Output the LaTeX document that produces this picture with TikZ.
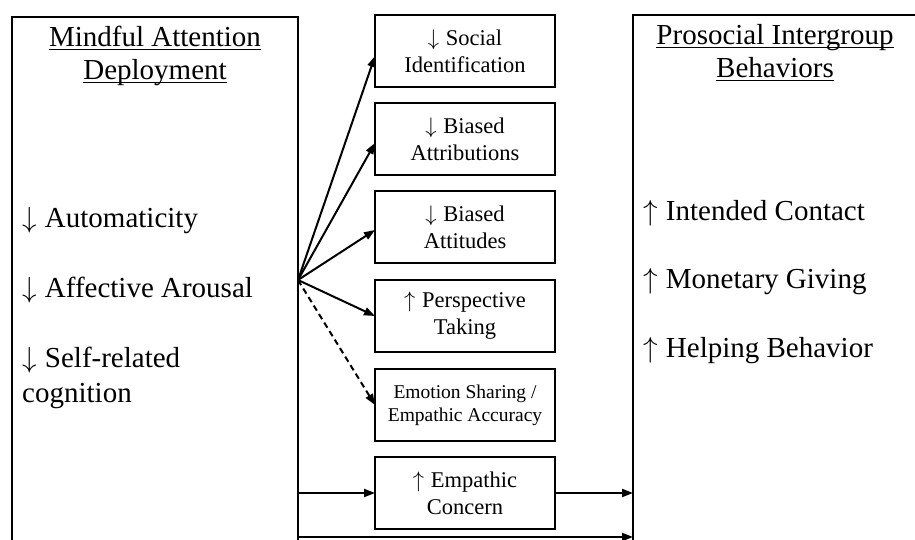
\RequirePackage{fix-cm}
\documentclass[tikz,border=0pt]{standalone}
\usepackage{fontspec}
\setmainfont{Liberation Serif}
\usepackage{tikz}
\usetikzlibrary{arrows.meta}
\newcommand{\headingsize}{\fontsize{29}{33}\selectfont}
\newcommand{\itemsize}{\fontsize{29}{35}\selectfont}
\newcommand{\uhead}[1]{\setbox0\hbox{#1}\leavevmode\rlap{\rule[-3.5pt]{\wd0}{1.4pt}}\box0}
\newcommand{\decr}{$\downarrow$\kern1pt}
\newcommand{\incr}{$\uparrow$\kern1pt}
\tikzstyle{panel}=[draw, line width=1.5pt, inner sep=0, outer sep=0, anchor=north west, minimum height=600pt]
\tikzstyle{factor}=[draw, line width=1.5pt, inner sep=0, outer sep=0, minimum width=180pt, minimum height=72pt,
                    align=center, font=\fontsize{22.5}{27}\selectfont]
\tikzstyle{heading}=[inner sep=0, anchor=base, align=center, font=\headingsize]
\tikzstyle{item}=[inner sep=0, anchor=base west, align=left, font=\itemsize]
\tikzstyle{arr}=[line width=2pt, -{Triangle[length=11pt, width=8pt]}]
\tikzstyle{mindmap}=[x=1pt, y=-1pt,
                     % Fix the page to the size of the reference.
                     execute at begin picture={\useasboundingbox (0, 0) rectangle (915, 540);}]
\begin{document}
\begin{tikzpicture}[mindmap]
        \node[panel, minimum width=286pt] (mind) at (12, 17) {};
        \node[panel, minimum width=400pt] (prosoc) at (633, 15) {};
        \node[heading] (mindtitle) at (155, 80) {\uhead{Mindful Attention}\\\uhead{Deployment}};
        \node[heading] (prosoctitle) at (775, 78) {\uhead{Prosocial Intergroup}\\\uhead{Behaviors}};
        \node[item] (auto) at (22, 227) {\decr{} Automaticity};
        \node[item] (arousal) at (22, 297) {\decr{} Affective Arousal};
        \node[item] (self) at (22, 402) {\decr{} Self-related\\cognition};
        \node[item] (contact) at (643, 220) {\incr{} Intended Contact};
        \node[item] (giving) at (643, 288) {\incr{} Monetary Giving};
        \node[item] (helping) at (643, 357) {\incr{} Helping Behavior};
        \node[factor] (social) at (465, 51) {\decr{} Social\\Identification};
        \node[factor] (attrib) at (465, 139) {\decr{} Biased\\Attributions};
        \node[factor] (attit) at (465, 227) {\decr{} Biased\\Attitudes};
        \node[factor] (persp) at (465, 316) {\incr{} Perspective\\Taking};
        \node[factor, font=\fontsize{19.5}{23}\selectfont] (sharing) at (465, 405) {Emotion Sharing /\\Empathic Accuracy};
        \node[factor] (concern) at (465, 493) {\incr{} Empathic\\Concern};
        \coordinate (fan) at (298, 280);
        \coordinate (low) at (298, 537);
        \draw[arr] (fan) -- ([yshift=-5pt]social.west);
        \draw[arr] (fan) -- ([yshift=-4pt]attrib.west);
        \draw[arr] (fan) -- ([yshift=-3pt]attit.west);
        \draw[arr] (fan) -- (persp.west);
        \draw[arr, dash pattern=on 6pt off 4pt] (fan) -- (sharing.west);
        \draw[arr] (concern.west -| mind.east) -- (concern.west);
        \draw[arr] (concern.east) -- (concern.east -| prosoc.west);
        \draw[arr] (low) -- (low -| prosoc.west);
    \end{tikzpicture}
\end{document}
